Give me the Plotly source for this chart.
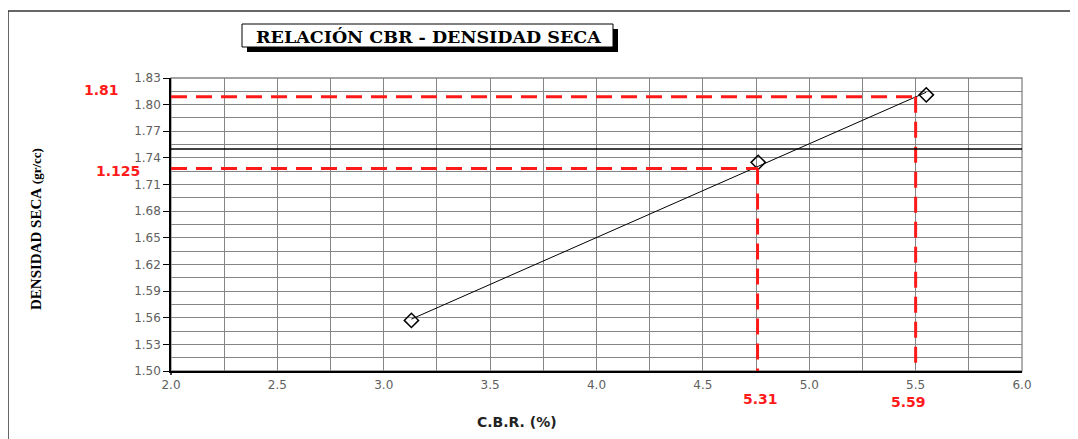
import numpy as np
import plotly.graph_objects as go

# ---- data ----
cbr = [3.13, 4.76, 5.55]
densidad = [1.557, 1.735, 1.811]
ref_dens_labels = ["1.81", "1.125"]
ref_cbr = [5.50, 4.757]
ref_cbr_labels = ["5.59", "5.31"]
ref_cbr_dens = [1.809, 1.728]
max_dens_line = 1.75
x_ticks = [2.0, 2.5, 3.0, 3.5, 4.0, 4.5, 5.0, 5.5, 6.0]
y_ticks = [1.50, 1.53, 1.56, 1.59, 1.62, 1.65, 1.68, 1.71, 1.74, 1.77, 1.80, 1.83]

OFF = 8  # page body margin
W, H = 1078 - OFF, 439 - OFF
# plot area in reference (page) px
L, R, T, B = 171, 1022, 78, 371


def px(xp):
    return (xp - L) / (R - L)


def py(yp):
    return (B - yp) / (B - T)


fig = go.Figure()

# trend line
coef = np.polyfit(cbr, densidad, 1)
xl = [min(cbr), max(cbr)]
fig.add_trace(go.Scatter(x=xl, y=list(np.polyval(coef, xl)), mode="lines",
                         line=dict(color="black", width=1), hoverinfo="skip",
                         showlegend=False))

# red reference dashed lines
red = "#ff1a1a"
dash = "16px,9px"
for yv, xv in zip(ref_cbr_dens, ref_cbr):
    fig.add_shape(type="line", x0=2.0, x1=xv, y0=yv, y1=yv,
                  line=dict(color=red, width=3, dash=dash), layer="above")
    fig.add_shape(type="line", x0=xv, x1=xv, y0=yv, y1=1.50,
                  line=dict(color=red, width=3, dash=dash), layer="above")

# black horizontal line
fig.add_shape(type="line", x0=2.0, x1=6.0, y0=max_dens_line, y1=max_dens_line,
              line=dict(color="black", width=1.5), layer="above")

# data points
fig.add_trace(go.Scatter(x=cbr, y=densidad, mode="markers",
                         marker=dict(symbol="diamond-open", size=11, color="black",
                                     line=dict(width=1.5, color="black")),
                         showlegend=False))

# outer frame (top and left)
fig.add_shape(type="line", xref="paper", yref="paper", x0=px(8), x1=px(1090),
              y0=py(11), y1=py(11), line=dict(color="#333", width=1.5))
fig.add_shape(type="line", xref="paper", yref="paper", x0=px(8), x1=px(8),
              y0=py(11), y1=py(450), line=dict(color="#333", width=1.5))

# y-axis short extension below x axis
fig.add_shape(type="line", xref="paper", yref="paper", x0=0, x1=0,
              y0=py(371), y1=py(375), line=dict(color="black", width=1.5))

# title box shadow + box
fig.add_shape(type="rect", xref="paper", yref="paper", x0=px(247), x1=px(618),
              y0=py(52), y1=py(29), fillcolor="black", line=dict(width=0))
fig.add_shape(type="rect", xref="paper", yref="paper", x0=px(242), x1=px(613),
              y0=py(47), y1=py(24), fillcolor="white",
              line=dict(color="black", width=1))
fig.add_annotation(xref="paper", yref="paper", x=px(428), y=py(37),
                   text="<b>RELACIÓN CBR - DENSIDAD SECA</b>", showarrow=False,
                   font=dict(family="DejaVu Serif", size=17.5, color="black"),
                   xanchor="center", yanchor="middle")

# y title
fig.add_annotation(xref="paper", yref="paper", x=px(36), y=py(229),
                   text="<b>DENSIDAD SECA</b> <span style='font-size:13px'><b>(gr/cc)</b></span>",
                   textangle=-90, showarrow=False,
                   font=dict(family="Liberation Serif", size=15, color="black"),
                   xanchor="center", yanchor="middle")
# x title
fig.add_annotation(xref="paper", yref="paper", x=px(517), y=py(422),
                   text="<b>C.B.R. (%)</b>", showarrow=False,
                   font=dict(family="DejaVu Sans", size=14, color="#222"),
                   xanchor="center", yanchor="middle")

# red labels
for lbl, xpix, ypix in zip(ref_dens_labels, [121, 142], [90, 171]):
    fig.add_annotation(xref="paper", yref="paper", x=px(xpix), y=py(ypix),
                       text="<b>%s</b>" % lbl, showarrow=False,
                       font=dict(family="DejaVu Sans", size=14, color=red),
                       xanchor="right", yanchor="middle")
for lbl, xpix, ypix in zip(ref_cbr_labels, [908, 760], [402, 399]):
    fig.add_annotation(xref="paper", yref="paper", x=px(xpix), y=py(ypix),
                       text="<b>%s</b>" % lbl, showarrow=False,
                       font=dict(family="DejaVu Sans", size=14, color=red),
                       xanchor="center", yanchor="middle")

grid = "#858585"
tickfont = dict(family="DejaVu Sans", size=12, color="#606060")
fig.update_layout(
    width=W, height=H, autosize=False,
    margin=dict(l=L - OFF, r=1078 - R, t=T - OFF, b=439 - B, pad=0),
    paper_bgcolor="white", plot_bgcolor="white",
    showlegend=False,
    xaxis=dict(range=[2.0, 6.0], tickvals=x_ticks, ticktext=["%.1f" % v for v in x_ticks],
               showgrid=True, gridcolor=grid, gridwidth=1.3,
               minor=dict(dtick=0.25, tick0=2.0, showgrid=True, gridcolor=grid, gridwidth=1.3),
               showline=True, linecolor="black", linewidth=1.5, mirror=False,
               ticks="", ticklabelstandoff=2,
               tickfont=tickfont, zeroline=False, fixedrange=True),
    yaxis=dict(range=[1.50, 1.83], tickvals=y_ticks, ticktext=["%.2f" % v for v in y_ticks],
               showgrid=True, gridcolor=grid, gridwidth=1.3,
               minor=dict(dtick=0.015, tick0=1.50, showgrid=True, gridcolor=grid, gridwidth=1.3),
               showline=True, linecolor="black", linewidth=1.5,
               ticks="outside", ticklen=6, tickcolor="black",
               tickfont=tickfont, zeroline=False, fixedrange=True),
)
# right/top border in grid color
fig.add_shape(type="rect", xref="paper", yref="paper", x0=0, x1=1, y0=0, y1=1,
              line=dict(color=grid, width=1.3), layer="below")

fig.write_html("out.html")
